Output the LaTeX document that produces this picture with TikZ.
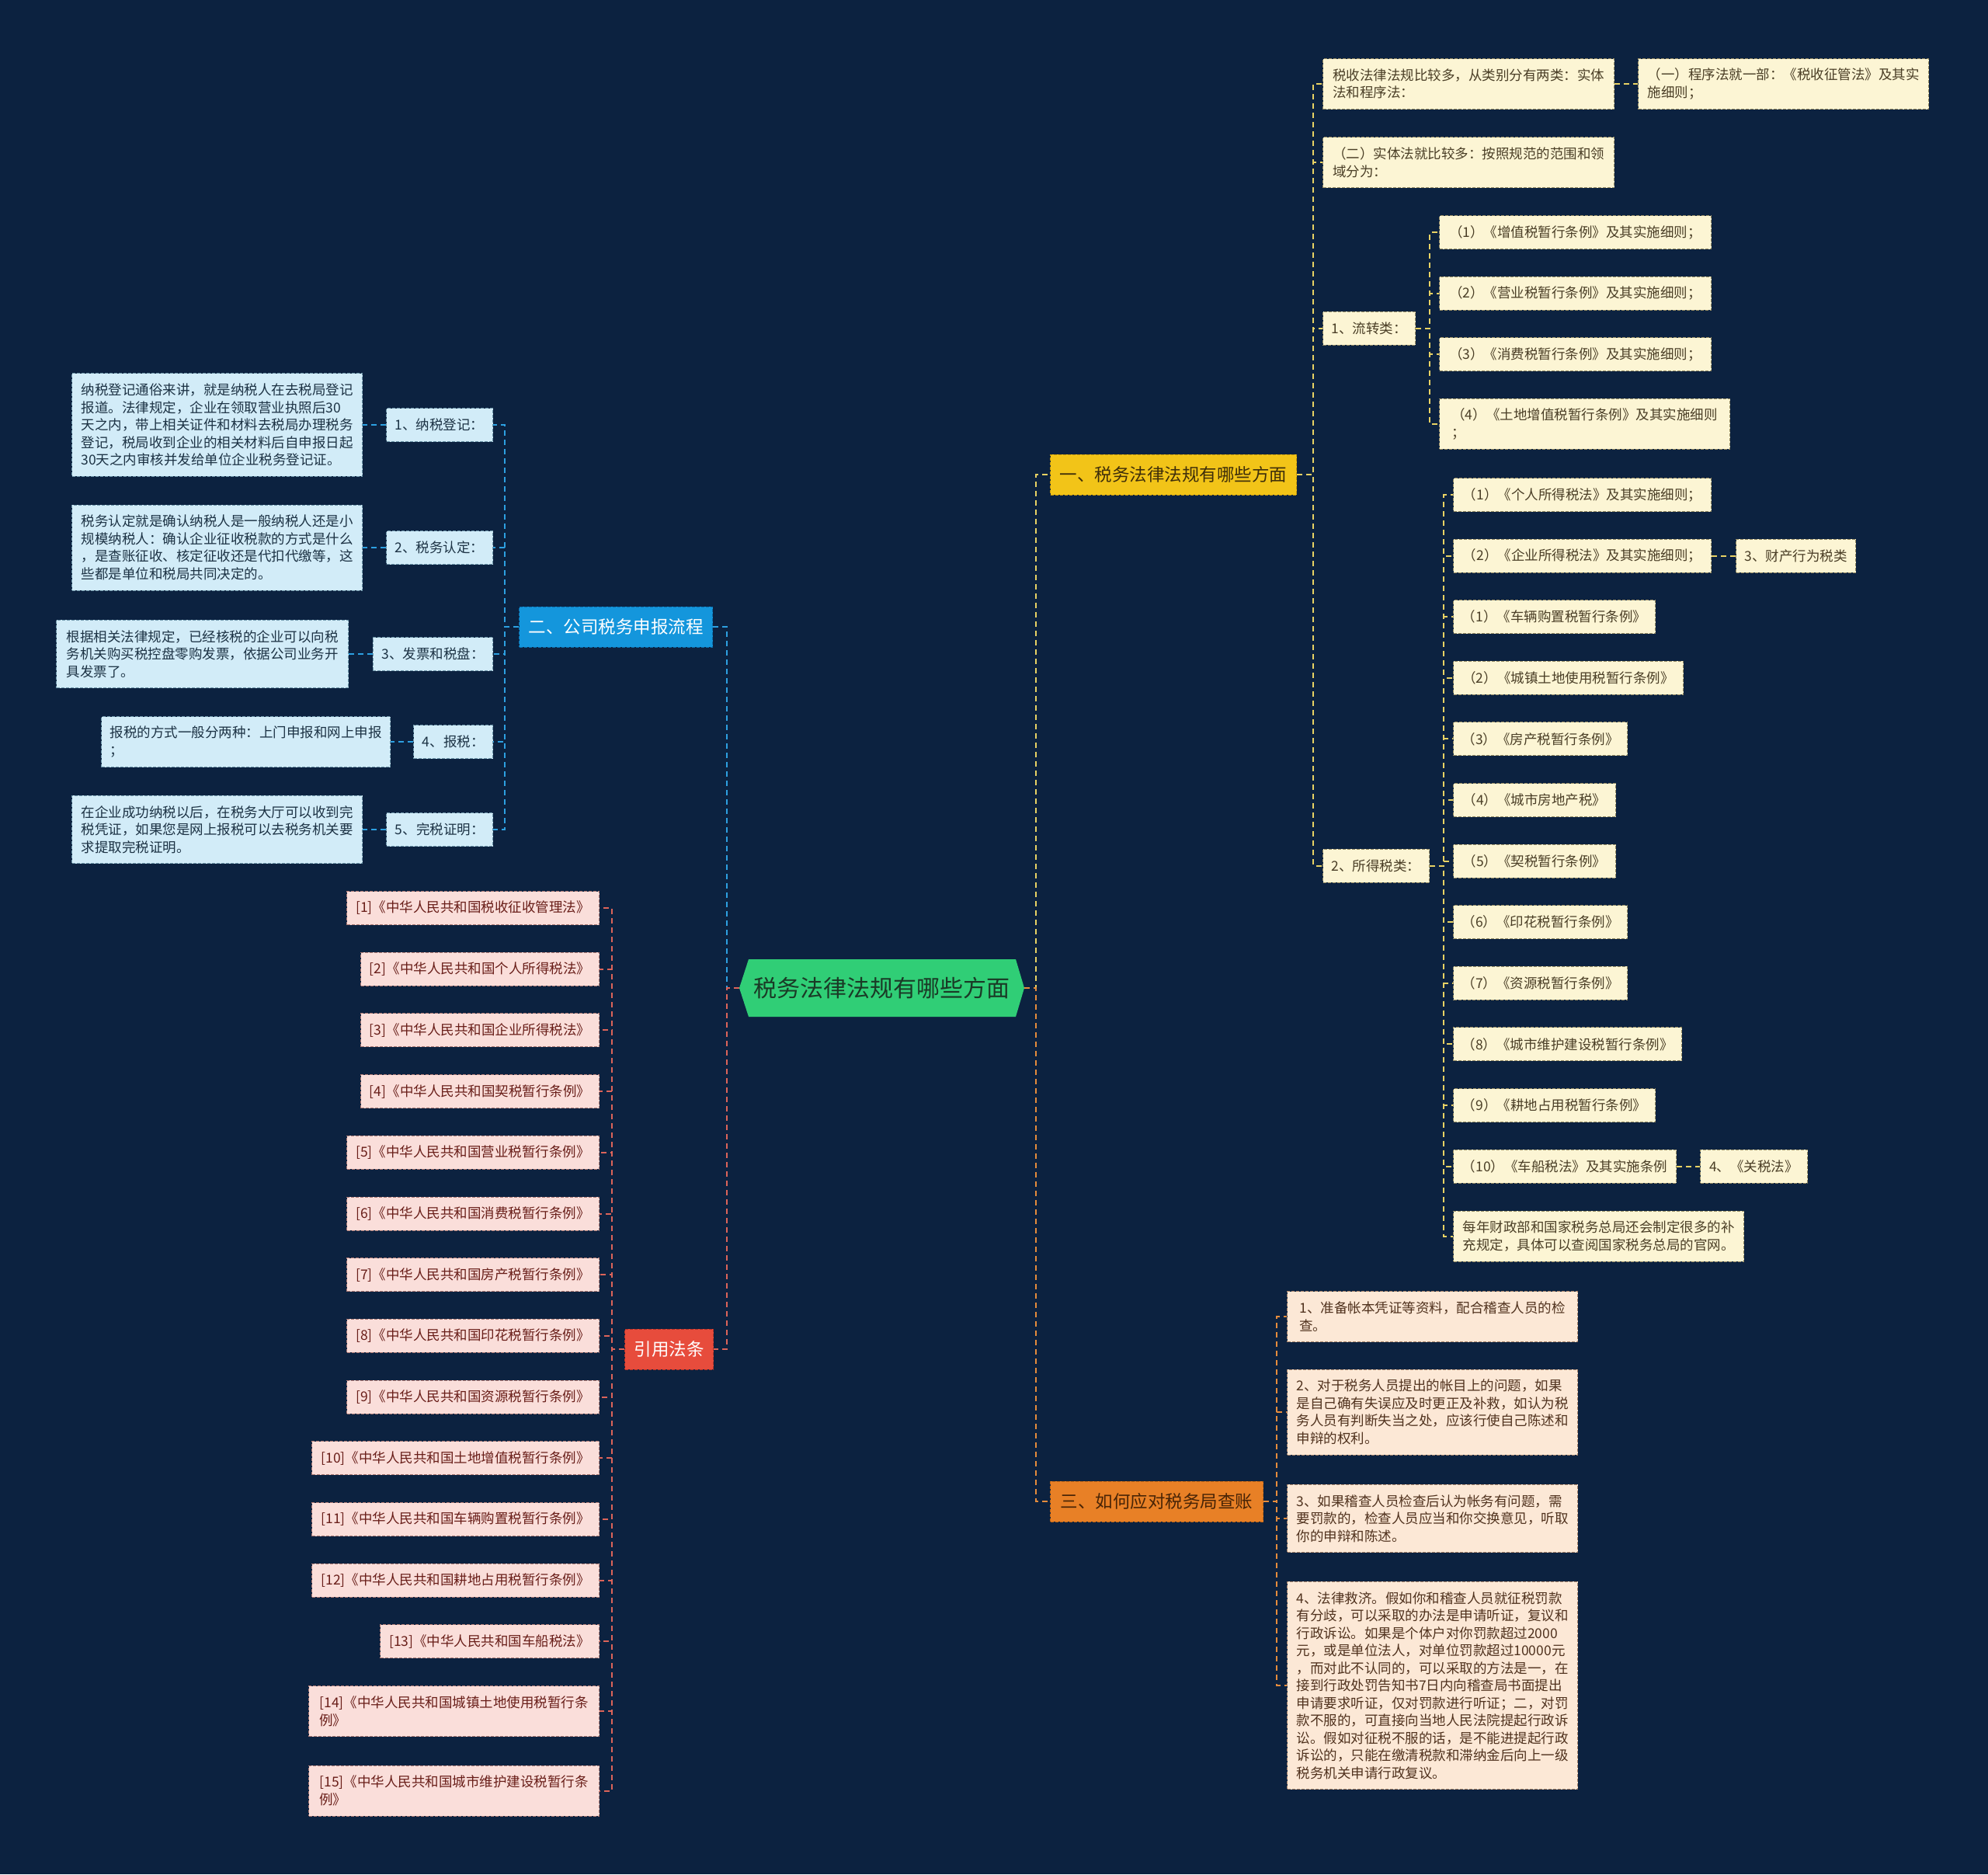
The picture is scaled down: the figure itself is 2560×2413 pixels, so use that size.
\documentclass[tikz,border=0pt]{standalone}
\usepackage{fontspec}
\setmainfont{Noto Sans CJK SC}
\definecolor{bgc}{RGB}{12,34,64}
\definecolor{rootc}{RGB}{48,206,118}
\definecolor{roottext}{RGB}{26,58,38}
% yellow branch
\definecolor{ygold}{RGB}{242,196,24}
\definecolor{ygoldb}{RGB}{196,150,10}
\definecolor{ygoldt}{RGB}{62,46,10}
\definecolor{yfill}{RGB}{252,245,212}
\definecolor{yline}{RGB}{150,140,100}
\definecolor{ytext}{RGB}{74,62,38}
\definecolor{yconn}{RGB}{232,210,100}
% blue branch
\definecolor{bblue}{RGB}{20,150,220}
\definecolor{bblueb}{RGB}{12,110,170}
\definecolor{bfill}{RGB}{210,236,248}
\definecolor{bline}{RGB}{110,150,170}
\definecolor{btext}{RGB}{28,50,68}
\definecolor{bconn}{RGB}{45,160,225}
% orange branch
\definecolor{oor}{RGB}{232,128,38}
\definecolor{oorb}{RGB}{190,100,20}
\definecolor{oort}{RGB}{72,36,6}
\definecolor{ofill}{RGB}{252,232,214}
\definecolor{oline}{RGB}{165,130,105}
\definecolor{otext}{RGB}{80,50,30}
\definecolor{oconn}{RGB}{230,140,60}
% red branch
\definecolor{rred}{RGB}{231,76,60}
\definecolor{rredb}{RGB}{180,50,40}
\definecolor{rfill}{RGB}{250,222,218}
\definecolor{rline}{RGB}{170,120,115}
\definecolor{rtext}{RGB}{105,30,25}
\definecolor{rconn}{RGB}{220,100,90}
\tikzset{
  box/.style={rectangle, inner xsep=11pt, inner ysep=0pt, align=left,
    font=\fontsize{17.5}{22.5}\selectfont, line width=1pt, dash pattern=on 4pt off 2pt,
    minimum height=43},
  lone/.style={rectangle, inner xsep=11pt, inner ysep=0pt, align=center,
    font=\fontsize{22.5}{28}\selectfont, line width=1pt, dash pattern=on 4pt off 2pt,
    minimum height=52},
  hh2/.style={minimum height=65},
  hh3/.style={minimum height=87.5},
  hh4/.style={minimum height=110},
  hh5/.style={minimum height=132.5},
  hh11/.style={minimum height=267.5},
  ybox/.style={box, fill=yfill, draw=yline, text=ytext, anchor=west},
  bbox/.style={box, fill=bfill, draw=bline, text=btext, anchor=east},
  obox/.style={box, fill=ofill, draw=oline, text=otext, anchor=west},
  rbox/.style={box, fill=rfill, draw=rline, text=rtext, anchor=east},
  conn/.style={line width=2pt, dash pattern=on 7pt off 5pt},
  yc/.style={conn, draw=yconn},
  bc/.style={conn, draw=bconn},
  oc/.style={conn, draw=oconn},
  rc/.style={conn, draw=rconn},
  rootnode/.style={rectangle, inner sep=0pt, minimum width=367, minimum height=74,
    font=\fontsize{30}{36}\selectfont, text=roottext}
}
\begin{document}
\begin{tikzpicture}[x=1pt,y=-1pt]
\fill[bgc] (0,0) rectangle (2560,2413);
\useasboundingbox (0,0) rectangle (2560,2413);

% ---------- root ----------
\fill[rootc] (952,1272) -- (964,1235) -- (1308,1235) -- (1319,1272) -- (1308,1309) -- (964,1309) -- cycle;
\node[rootnode] (root) at (1135.5,1272) {税务法律法规有哪些方面};

% ---------- level 1 ----------
\node[lone, fill=ygold, draw=ygoldb, text=ygoldt, anchor=west, minimum width=317] (b1) at (1352,611) {一、税务法律法规有哪些方面};
\node[lone, fill=oor, draw=oorb, text=oort, anchor=west, minimum width=274] (b3) at (1352,1933) {三、如何应对税务局查账};
\node[lone, fill=bblue, draw=bblueb, text=white, anchor=east, minimum width=249] (b2) at (918,807) {二、公司税务申报流程};
\node[lone, fill=rred, draw=rredb, text=white, anchor=east, minimum width=114] (b4) at (919,1737) {引用法条};

% ---------- branch 1 (yellow) ----------
\node[ybox, hh2, minimum width=375] (A1) at (1703,108) {税收法律法规比较多，从类别分有两类：实体\\法和程序法：};
\node[ybox, hh2, minimum width=374] (A1a) at (2109,108) {（一）程序法就一部：《税收征管法》及其实\\施细则；};
\node[ybox, hh2, minimum width=375] (A2) at (1703,209) {（二）实体法就比较多：按照规范的范围和领\\域分为：};
\node[ybox, minimum width=119] (A3) at (1703,422.5) {1、流转类：};
\node[ybox, minimum width=350] (L1) at (1853,299) {（1）《增值税暂行条例》及其实施细则；};
\node[ybox, minimum width=350] (L2) at (1853,377.6) {（2）《营业税暂行条例》及其实施细则；};
\node[ybox, minimum width=350] (L3) at (1853,456.2) {（3）《消费税暂行条例》及其实施细则；};
\node[ybox, hh2, minimum width=374] (L4) at (1853,545.8) {（4）《土地增值税暂行条例》及其实施细则\\；};
\node[ybox, minimum width=137] (A4) at (1703,1114.5) {2、所得税类：};
\node[ybox, minimum width=332] (S1) at (1871,637) {（1）《个人所得税法》及其实施细则；};
\node[ybox, minimum width=332] (S2) at (1871,715.6) {（2）《企业所得税法》及其实施细则；};
\node[ybox, minimum width=152] (P1) at (2235,715.6) {3、财产行为税类};
\node[ybox, minimum width=260] (S3) at (1871,794.2) {（1）《车辆购置税暂行条例》};
\node[ybox, minimum width=296] (S4) at (1871,872.8) {（2）《城镇土地使用税暂行条例》};
\node[ybox, minimum width=224] (S5) at (1871,951.4) {（3）《房产税暂行条例》};
\node[ybox, minimum width=209] (S6) at (1871,1030) {（4）《城市房地产税》};
\node[ybox, minimum width=209] (S7) at (1871,1108.6) {（5）《契税暂行条例》};
\node[ybox, minimum width=224] (S8) at (1871,1187.2) {（6）《印花税暂行条例》};
\node[ybox, minimum width=224] (S9) at (1871,1265.8) {（7）《资源税暂行条例》};
\node[ybox, minimum width=281] (S10) at (1871,1344.4) {（8）《城市维护建设税暂行条例》};
\node[ybox, minimum width=260] (S11) at (1871,1423) {（9）《耕地占用税暂行条例》};
\node[ybox, minimum width=287] (S12) at (1871,1501.6) {（10）《车船税法》及其实施条例};
\node[ybox, minimum width=138] (P2) at (2189,1501.6) {4、《关税法》};
\node[ybox, hh2, minimum width=374] (S13) at (1871,1591.6) {每年财政部和国家税务总局还会制定很多的补\\充规定，具体可以查阅国家税务总局的官网。};

% ---------- branch 3 (orange) ----------
\node[obox, hh2, minimum width=374] (C1) at (1657,1695) {1、准备帐本凭证等资料，配合稽查人员的检\\查。};
\node[obox, hh4, minimum width=374] (C2) at (1657,1818) {2、对于税务人员提出的帐目上的问题，如果\\是自己确有失误应及时更正及补救，如认为税\\务人员有判断失当之处，应该行使自己陈述和\\申辩的权利。};
\node[obox, hh3, minimum width=374] (C3) at (1657,1955) {3、如果稽查人员检查后认为帐务有问题，需\\要罚款的，检查人员应当和你交换意见，听取\\你的申辩和陈述。};
\node[obox, hh11, minimum width=374] (C4) at (1657,2170) {4、法律救济。假如你和稽查人员就征税罚款\\有分歧，可以采取的办法是申请听证，复议和\\行政诉讼。如果是个体户对你罚款超过2000\\元，或是单位法人，对单位罚款超过10000元\\，而对此不认同的，可以采取的方法是一，在\\接到行政处罚告知书7日内向稽查局书面提出\\申请要求听证，仅对罚款进行听证；二，对罚\\款不服的，可直接向当地人民法院提起行政诉\\讼。假如对征税不服的话，是不能进提起行政\\诉讼的，只能在缴清税款和滞纳金后向上一级\\税务机关申请行政复议。};

% ---------- branch 2 (blue) ----------
\node[bbox, minimum width=137] (B1) at (635,547) {1、纳税登记：};
\node[bbox, hh5, minimum width=374] (B1a) at (467,547) {纳税登记通俗来讲，就是纳税人在去税局登记\\报道。法律规定，企业在领取营业执照后30\\天之内，带上相关证件和材料去税局办理税务\\登记，税局收到企业的相关材料后自申报日起\\30天之内审核并发给单位企业税务登记证。};
\node[bbox, minimum width=137] (B2) at (635,705) {2、税务认定：};
\node[bbox, hh4, minimum width=374] (B2a) at (467,705) {税务认定就是确认纳税人是一般纳税人还是小\\规模纳税人：确认企业征收税款的方式是什么\\，是查账征收、核定征收还是代扣代缴等，这\\些都是单位和税局共同决定的。};
\node[bbox, minimum width=153] (B3) at (635,842) {3、发票和税盘：};
\node[bbox, hh3, minimum width=376] (B3a) at (449,842) {根据相关法律规定，已经核税的企业可以向税\\务机关购买税控盘零购发票，依据公司业务开\\具发票了。};
\node[bbox, minimum width=100] (B4) at (635,955) {4、报税：};
\node[bbox, hh2, minimum width=372] (B4a) at (503,955) {报税的方式一般分两种：上门申报和网上申报\\；};
\node[bbox, minimum width=135] (B5) at (635,1068) {5、完税证明：};
\node[bbox, hh3, minimum width=374] (B5a) at (467,1068) {在企业成功纳税以后，在税务大厅可以收到完\\税凭证，如果您是网上报税可以去税务机关要\\求提取完税证明。};

% ---------- branch 4 (red) ----------
\node[rbox, minimum width=325] (R1) at (772,1169) {[1]《中华人民共和国税收征收管理法》};
\node[rbox, minimum width=307] (R2) at (772,1247.7) {[2]《中华人民共和国个人所得税法》};
\node[rbox, minimum width=307] (R3) at (772,1326.4) {[3]《中华人民共和国企业所得税法》};
\node[rbox, minimum width=307] (R4) at (772,1405.1) {[4]《中华人民共和国契税暂行条例》};
\node[rbox, minimum width=325] (R5) at (772,1483.8) {[5]《中华人民共和国营业税暂行条例》};
\node[rbox, minimum width=325] (R6) at (772,1562.5) {[6]《中华人民共和国消费税暂行条例》};
\node[rbox, minimum width=325] (R7) at (772,1641.2) {[7]《中华人民共和国房产税暂行条例》};
\node[rbox, minimum width=325] (R8) at (772,1719.9) {[8]《中华人民共和国印花税暂行条例》};
\node[rbox, minimum width=325] (R9) at (772,1798.6) {[9]《中华人民共和国资源税暂行条例》};
\node[rbox, minimum width=370] (R10) at (772,1877.3) {[10]《中华人民共和国土地增值税暂行条例》};
\node[rbox, minimum width=370] (R11) at (772,1956) {[11]《中华人民共和国车辆购置税暂行条例》};
\node[rbox, minimum width=370] (R12) at (772,2034.7) {[12]《中华人民共和国耕地占用税暂行条例》};
\node[rbox, minimum width=282] (R13) at (772,2113.4) {[13]《中华人民共和国车船税法》};
\node[rbox, hh2, minimum width=374] (R14) at (772,2203.4) {[14]《中华人民共和国城镇土地使用税暂行条\\例》};
\node[rbox, hh2, minimum width=374] (R15) at (772,2305.5) {[15]《中华人民共和国城市维护建设税暂行条\\例》};

% ---------- connectors ----------
\draw[yc] (root.east) -- ++(15,0) |- (b1.west);
\draw[oc] (root.east) -- ++(15,0) |- (b3.west);
\draw[bc] (root.west) -- ++(-16,0) |- (b2.east);
\draw[rc] (root.west) -- ++(-16,0) |- (b4.east);

\foreach \n in {A1,A2,A3,A4} \draw[yc] (b1.east) -- ++(21,0) |- (\n.west);
\draw[yc] (A1.east) -- (A1a.west);
\foreach \n in {L1,L2,L3,L4} \draw[yc] (A3.east) -- ++(18,0) |- (\n.west);
\foreach \n in {S1,S2,S3,S4,S5,S6,S7,S8,S9,S10,S11,S12,S13} \draw[yc] (A4.east) -- ++(18,0) |- (\n.west);
\draw[yc] (S2.east) -- (P1.west);
\draw[yc] (S12.east) -- (P2.west);

\foreach \n in {C1,C2,C3,C4} \draw[oc] (b3.east) -- ++(17,0) |- (\n.west);

\foreach \n in {B1,B2,B3,B4,B5} \draw[bc] (b2.west) -- ++(-18,0) |- (\n.east);
\foreach \n in {B1,B2,B3,B4,B5} \draw[bc] (\n.west) -- (\n a.east);

\foreach \n in {1,...,15} \draw[rc] (b4.west) -- ++(-16,0) |- (R\n.east);
\end{tikzpicture}
\end{document}
